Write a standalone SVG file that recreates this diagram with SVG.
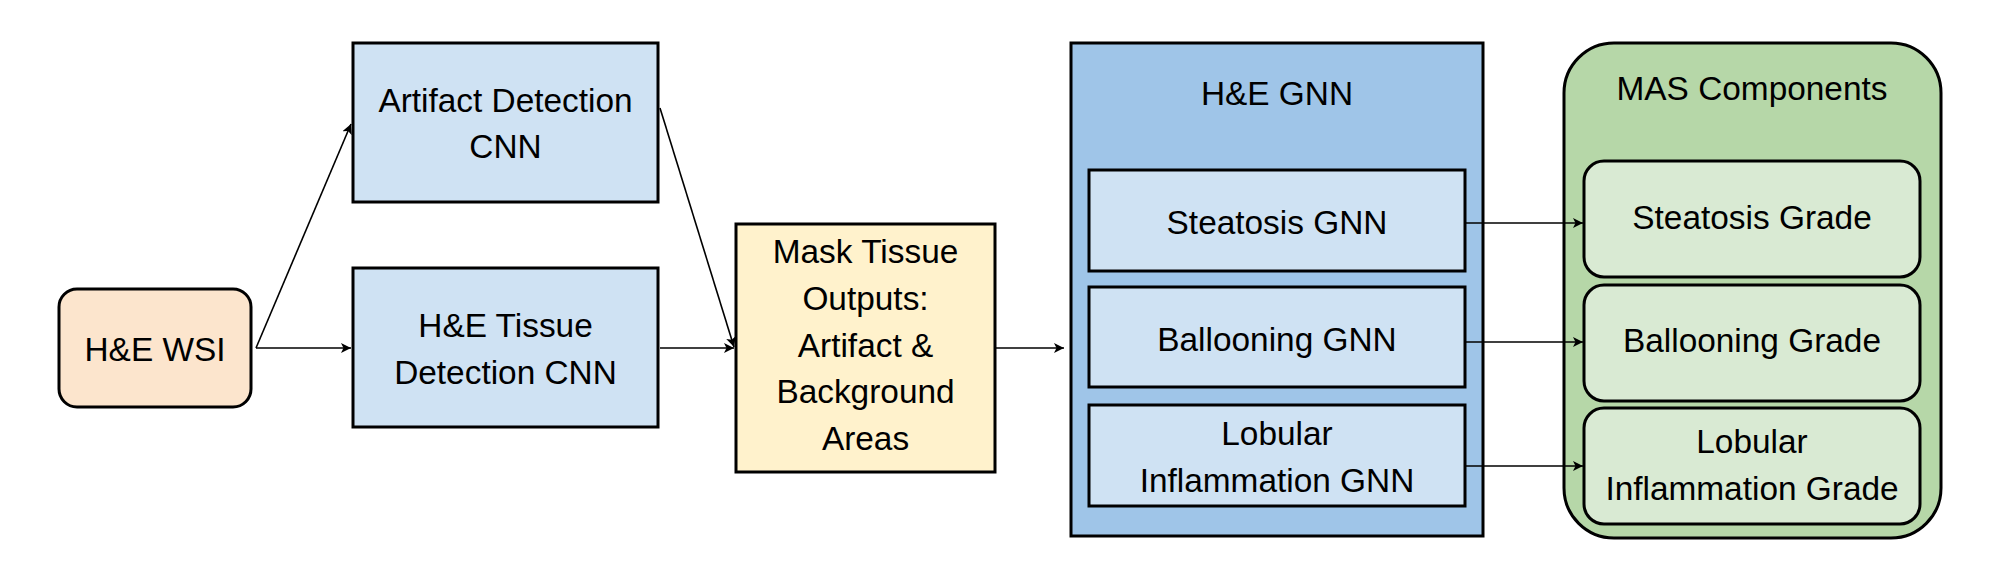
<svg xmlns="http://www.w3.org/2000/svg" width="1992" height="580" viewBox="0 0 1992 580">
<defs>
<marker id="arr" viewBox="0 0 10 10" refX="10" refY="5" markerWidth="10" markerHeight="10" markerUnits="userSpaceOnUse" orient="auto">
<path d="M0,0 L10,5 L0,10 L2.5,5 Z" fill="#000"/>
</marker>
<style>
.b{stroke:#000;stroke-width:3}
.t{font-family:"Liberation Sans",Arial,sans-serif;font-size:33.4px;fill:#000;text-anchor:middle}
.c{fill:none;stroke:#000;stroke-width:1.6}
</style>
</defs>
<rect width="1992" height="580" fill="#fff"/>
<g id="wsi">
<rect class="b" x="59" y="289" width="192" height="118" rx="18" fill="#fce5cd"/>
<text class="t" x="155" y="361">H&amp;E WSI</text>
</g>
<g id="artifact">
<rect class="b" x="353" y="43" width="305" height="159" fill="#cfe2f3"/>
<text class="t" x="505.5" y="112">Artifact Detection</text>
<text class="t" x="505.5" y="158">CNN</text>
</g>
<g id="tissue">
<rect class="b" x="353" y="268" width="305" height="159" fill="#cfe2f3"/>
<text class="t" x="505.5" y="337">H&amp;E Tissue</text>
<text class="t" x="505.5" y="384">Detection CNN</text>
</g>
<g id="mask">
<rect class="b" x="736" y="224" width="259" height="248" fill="#fff2cc"/>
<text class="t" x="865.5" y="263">Mask Tissue</text>
<text class="t" x="865.5" y="310">Outputs:</text>
<text class="t" x="865.5" y="357">Artifact &amp;</text>
<text class="t" x="865.5" y="403">Background</text>
<text class="t" x="865.5" y="450">Areas</text>
</g>
<g id="gnn">
<rect class="b" x="1071" y="43" width="412" height="493" fill="#9fc5e8"/>
<text class="t" x="1277" y="105">H&amp;E GNN</text>
</g>
<g id="steatosis-gnn">
<rect class="b" x="1089" y="170" width="376" height="101" fill="#cfe2f3"/>
<text class="t" x="1277" y="234">Steatosis GNN</text>
</g>
<g id="ballooning-gnn">
<rect class="b" x="1089" y="287" width="376" height="100" fill="#cfe2f3"/>
<text class="t" x="1277" y="351">Ballooning GNN</text>
</g>
<g id="lobular-gnn">
<rect class="b" x="1089" y="405" width="376" height="101" fill="#cfe2f3"/>
<text class="t" x="1277" y="445">Lobular</text>
<text class="t" x="1277" y="492">Inflammation GNN</text>
</g>
<g id="mas">
<rect class="b" x="1564" y="43" width="377" height="495" rx="50" fill="#b6d7a8"/>
<text class="t" x="1752" y="100">MAS Components</text>
</g>
<g id="steatosis-grade">
<rect class="b" x="1584" y="161" width="336" height="116" rx="20" fill="#d9ead3"/>
<text class="t" x="1752" y="229">Steatosis Grade</text>
</g>
<g id="ballooning-grade">
<rect class="b" x="1584" y="285" width="336" height="116" rx="20" fill="#d9ead3"/>
<text class="t" x="1752" y="352">Ballooning Grade</text>
</g>
<g id="lobular-grade">
<rect class="b" x="1584" y="408" width="336" height="116" rx="20" fill="#d9ead3"/>
<text class="t" x="1752" y="453">Lobular</text>
<text class="t" x="1752" y="500">Inflammation Grade</text>
</g>
<g id="connectors">
<path class="c" d="M256,348 L351,348" marker-end="url(#arr)"/>
<path class="c" d="M256,348 L351,124" marker-end="url(#arr)"/>
<path class="c" d="M660,108 L734,347" marker-end="url(#arr)"/>
<path class="c" d="M660,348 L734,348" marker-end="url(#arr)"/>
<path class="c" d="M996,348 L1064,348" marker-end="url(#arr)"/>
<path class="c" d="M1466,223 L1583,223" marker-end="url(#arr)"/>
<path class="c" d="M1466,342 L1583,342" marker-end="url(#arr)"/>
<path class="c" d="M1466,466 L1583,466" marker-end="url(#arr)"/>
</g>
</svg>
